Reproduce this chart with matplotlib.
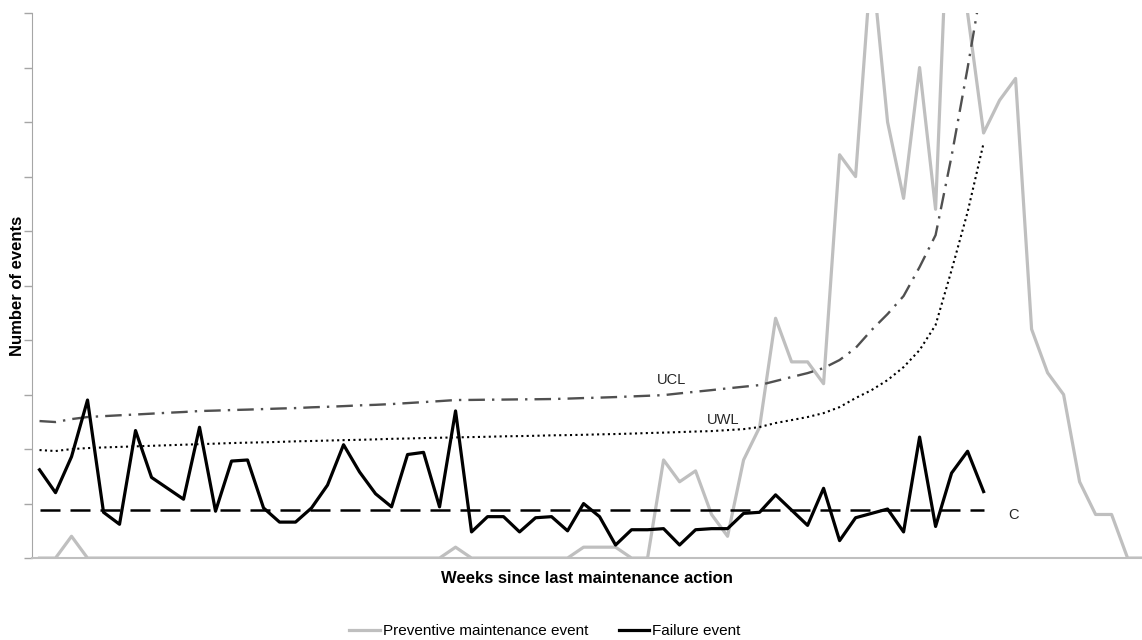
import matplotlib
matplotlib.use('Agg')
import matplotlib.pyplot as plt
import numpy as np

# weekly data (events)
preventive = [0, 0, 2, 0, 0, 0, 0, 0, 0, 0,
              0, 0, 0, 0, 0, 0, 0, 0, 0, 0,
              0, 0, 0, 0, 0, 0, 1, 0, 0, 0,
              0, 0, 0, 0, 1, 1, 1, 0, 0, 9,
              7, 8, 4, 2, 9, 12, 22, 18, 18, 16,
              37, 35, 55, 40, 33, 45, 32, 68, 50, 39,
              42, 44, 21, 17, 15, 7, 4, 4, 0, 0]

failure = [8.1, 6.0, 9.3, 14.5, 4.2, 3.1, 11.7, 7.4, 6.4, 5.4,
           12.0, 4.3, 8.9, 9.0, 4.6, 3.3, 3.3, 4.6, 6.7, 10.4,
           7.9, 5.9, 4.7, 9.5, 9.7, 4.7, 13.5, 2.4, 3.8, 3.8,
           2.4, 3.7, 3.8, 2.5, 5.0, 3.8, 1.2, 2.6, 2.6, 2.7,
           1.2, 2.6, 2.7, 2.7, 4.1, 4.2, 5.8, 4.4, 3.0, 6.4,
           1.6, 3.7, 4.1, 4.5, 2.4, 11.1, 2.9, 7.8, 9.8, 6.1]

ucl = [12.57, 12.48, 12.75, 12.94, 13.02, 13.10, 13.17, 13.25, 13.33, 13.40,
       13.49, 13.53, 13.58, 13.62, 13.67, 13.72, 13.76, 13.83, 13.88, 13.94,
       14.01, 14.06, 14.13, 14.22, 14.31, 14.40, 14.50, 14.51, 14.53, 14.54,
       14.56, 14.57, 14.59, 14.63, 14.68, 14.72, 14.77, 14.83, 14.89, 14.95,
       15.11, 15.26, 15.41, 15.57, 15.72, 15.87, 16.24, 16.61, 16.97, 17.43,
       18.17, 19.27, 20.92, 22.39, 24.04, 26.70, 29.63, 36.88, 44.95, 53.58]

uwl = [9.91, 9.82, 10.00, 10.09, 10.15, 10.20, 10.25, 10.30, 10.35, 10.40,
       10.45, 10.50, 10.55, 10.59, 10.62, 10.66, 10.71, 10.74, 10.78, 10.82,
       10.85, 10.89, 10.94, 10.97, 11.01, 11.04, 11.07, 11.10, 11.13, 11.17,
       11.19, 11.22, 11.26, 11.28, 11.31, 11.35, 11.38, 11.42, 11.47, 11.51,
       11.56, 11.61, 11.65, 11.74, 11.83, 12.02, 12.39, 12.66, 12.94, 13.30,
       13.85, 14.68, 15.41, 16.33, 17.52, 19.08, 21.38, 26.42, 31.74, 38.07]

c_level = 4.45

weeks_pm = np.arange(len(preventive))
weeks_f = np.arange(len(failure))

fig = plt.figure(figsize=(11.42, 6.4), dpi=100)
ax = fig.add_axes([0.0276, 0.128, 0.9724, 0.8516])

ax.plot(weeks_pm, preventive, color='#bfbfbf', lw=2.3, zorder=2,
        label='Preventive maintenance event')
ax.plot(weeks_f, failure, color='black', lw=2.3, zorder=4,
        label='Failure event')
ax.plot(weeks_f, ucl, color='#505050', lw=1.7, dashes=(7, 3, 1, 3), zorder=3)
ax.plot(weeks_f, uwl, color='black', lw=1.5, dashes=(1, 1.6), zorder=3)
ax.plot(weeks_f, [c_level] * len(weeks_f), color='black', lw=1.8,
        dashes=(8, 4), zorder=3)

ax.text(39.5, 16.35, 'UCL', fontsize=10.5, color='#262626',
        ha='center', va='center', family='Liberation Sans')
ax.text(42.7, 12.7, 'UWL', fontsize=10.5, color='#262626',
        ha='center', va='center', family='Liberation Sans')
ax.text(60.9, 3.95, 'C', fontsize=10.5, color='#262626',
        ha='center', va='center', family='Liberation Sans')

ax.set_xlim(-0.5, 68.9)
ax.set_ylim(0, 50)
ax.set_yticks(np.arange(0, 51, 5))
ax.set_yticklabels([])
ax.set_xticks([])
ax.tick_params(axis='y', length=6, color='#a6a6a6', width=1)
for s in ['top', 'right']:
    ax.spines[s].set_visible(False)
ax.spines['left'].set_color('#a6a6a6')
ax.spines['bottom'].set_color('#bfbfbf')
ax.spines['bottom'].set_linewidth(1.5)

ax.set_xlabel('Weeks since last maintenance action', fontsize=12,
              fontweight='bold', family='Liberation Sans', labelpad=9)
fig.text(0.015, 0.554, 'Number of events', rotation=90, fontsize=12,
         fontweight='bold', family='Liberation Sans', ha='center', va='center')

fig.legend(loc='center', bbox_to_anchor=(0.477, 0.014), ncol=2, frameon=False,
           handlelength=2.0, handletextpad=0.2, columnspacing=2.0,
           prop={'family': 'Liberation Sans', 'size': 11})

fig.savefig('out.png', dpi=100)
